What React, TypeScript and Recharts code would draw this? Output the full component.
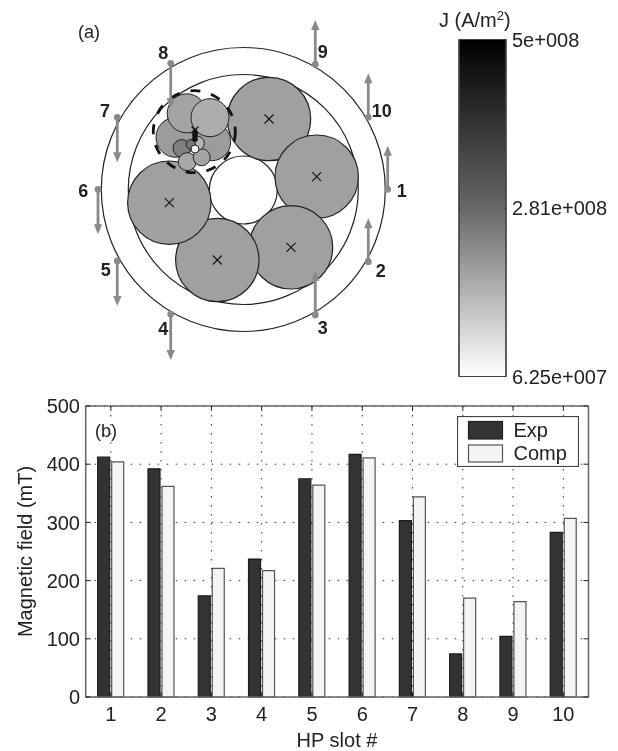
import React from 'react';
import {
  Bar, ComposedChart, Line, ScatterChart, Scatter, XAxis, YAxis, CartesianGrid, Legend,
} from 'recharts';

const FONT = '"Liberation Sans", Arial, sans-serif';

// Panel (b)
const slots = ['1', '2', '3', '4', '5', '6', '7', '8', '9', '10'];
const expValues = [412, 392, 174, 237, 375, 417, 303, 74, 104, 283];
const compValues = [404, 362, 221, 217, 364, 411, 344, 170, 164, 307];
const fieldTicks = [0, 100, 200, 300, 400, 500];
const barRows = slots.map((slot, i) => ({ slot, Exp: expValues[i], Comp: compValues[i] }));

// Panel (a): ring, bundles
const ringX = [243.3, 243.3, 243.3];
const ringY = [189.5, 189.5, 190];
const ringR = [142, 115, 34];
const ringFill = ['#ffffff', '#ffffff', '#ffffff'];

const bundleX = [269, 316.7, 291, 217.3, 169.3];
const bundleY = [119, 176.7, 247.3, 260, 202.7];
const bundleR = [41.7, 41.7, 41.7, 41.7, 41.7];

const subX = [176, 211.7, 186.7, 210, 181.7, 187.3, 201.7, 197.3, 190.7, 195];
const subY = [137.3, 141.7, 113.3, 117.7, 148.3, 161.7, 157.3, 143.3, 144.3, 149];
const subR = [20, 19, 19.5, 19, 8.7, 9, 8.5, 7, 4.7, 4];
const subFill = ['#9c9c9c', '#9c9c9c', '#a4a4a4', '#adadad', '#808080', '#a8a8a8', '#a4a4a4', '#b4b4b4', '#777777', '#ffffff'];

const coreX = [195, 195, 195];
const coreY = [131, 135, 139];
const coreR = [2, 2.6, 2.6];

const crossX = [269, 316.7, 291, 217.3, 169.3, 195];
const crossY = [119, 176.7, 247.3, 260, 202.7, 130];
const crossS = [4.5, 4.5, 4.5, 4.5, 4.5, 3.5];

const dashedX = [194.3];
const dashedY = [131.7];
const dashedR = [41];

// Panel (a): hall-probe slots and arrows
const arrowX = [387.7, 368.3, 315.3, 170.7, 117.3, 98, 117.3, 170.7, 315.3, 368.3];
const arrowBase = [189.3, 261.7, 315, 314.3, 261, 189.3, 117.3, 63.3, 64.3, 117.3];
const arrowTip = [145.7, 218.3, 270.7, 360, 306, 234.3, 162.3, 108.3, 20, 73.3];

const labelText = ['1', '2', '3', '4', '5', '6', '7', '8', '9', '10'];
const labelX = [401.7, 380.7, 322.7, 163.3, 105.7, 83.3, 105, 163.3, 322.7, 381.7];
const labelY = [190.7, 270.7, 328, 329.3, 270, 190.7, 110.7, 52.7, 52.3, 111];

// Colour bar
const jMin = 6.25e7;
const jMax = 5e8;
const jTicks = [6.25e7, 2.81e8, 5e8];
const jTickText: Record<number, string> = { 62500000: '6.25e+007', 281000000: '2.81e+008', 500000000: '5e+008' };
const jRows = [{ name: 'J', value: jMax }];

const zip = (xs: number[], ys: number[], extra: (i: number) => object) =>
  xs.map((x, i) => ({ x, y: ys[i], ...extra(i) }));

const circleRows = (xs: number[], ys: number[], rs: number[], fills?: string[]) =>
  zip(xs, ys, (i) => ({ r: rs[i], fill: fills ? fills[i] : '#a0a0a0' }));

const CircleShape = (stroke: string, width: number, dash?: string, noFill?: boolean) => (p: any) => (
  <circle
    cx={p.cx}
    cy={p.cy}
    r={p.payload.r}
    fill={noFill ? 'none' : p.payload.fill}
    stroke={stroke}
    strokeWidth={width}
    strokeDasharray={dash}
  />
);

const CrossShape = (p: any) => {
  const s = p.payload.s;
  return (
    <path
      d={`M${p.cx - s} ${p.cy - s}L${p.cx + s} ${p.cy + s}M${p.cx - s} ${p.cy + s}L${p.cx + s} ${p.cy - s}`}
      stroke="#111"
      strokeWidth={1.1}
      fill="none"
    />
  );
};

const ArrowShape = (p: any) => {
  const len = p.payload.tip - p.payload.y;
  const dir = len > 0 ? 1 : -1;
  const tipY = p.cy + len;
  return (
    <g>
      <circle cx={p.cx} cy={p.cy} r={3.4} fill="#8a8a8a" />
      <line x1={p.cx} x2={p.cx} y1={p.cy} y2={tipY - dir * 7} stroke="#8a8a8a" strokeWidth={2.8} />
      <path d={`M${p.cx} ${tipY}L${p.cx - 4.2} ${tipY - dir * 10}L${p.cx + 4.2} ${tipY - dir * 10}Z`} fill="#8a8a8a" />
    </g>
  );
};

const LabelShape = (p: any) => (
  <text
    x={p.cx}
    y={p.cy}
    textAnchor="middle"
    dominantBaseline="central"
    fontFamily={FONT}
    fontWeight="bold"
    fontSize={18}
    fill="#222"
  >
    {p.payload.text}
  </text>
);

const LegendBox = () => (
  <svg width={122} height={51} style={{ display: 'block' }}>
    <rect x={0.5} y={0.5} width={121} height={50} fill="#fff" stroke="#444" strokeWidth={1.2} />
    <rect x={11.5} y={5.5} width={34} height={17.5} fill="#333" stroke="#222" strokeWidth={1.2} />
    <rect x={11.5} y={29} width={34} height={17} fill="#f4f4f4" stroke="#555" strokeWidth={1.2} />
    <text x={56.5} y={21} fontFamily={FONT} fontSize={20} fill="#222">Exp</text>
    <text x={56.5} y={44} fontFamily={FONT} fontSize={20} fill="#222">Comp</text>
  </svg>
);

const AXIS = '#666';
const TICK = { fontFamily: FONT, fontSize: 20, fill: '#222' };
const NoText = () => <g />;

export default function App() {
  return (
    <div style={{ position: 'absolute', left: 0, top: 0, width: 618, height: 751, background: '#fff', overflow: 'hidden', filter: 'blur(0.4px)' }}>
      {/* Panel (a) */}
      <div style={{ position: 'absolute', left: 0, top: 0 }}>
        <ScatterChart width={440} height={390} margin={{ top: 0, right: 0, bottom: 0, left: 0 }}>
          <XAxis type="number" dataKey="x" domain={[0, 440]} hide />
          <YAxis type="number" dataKey="y" domain={[0, 390]} reversed hide />
          <Scatter data={circleRows(ringX, ringY, ringR, ringFill)} shape={CircleShape('#222', 1.2)} isAnimationActive={false} />
          <Scatter data={circleRows(bundleX, bundleY, bundleR)} shape={CircleShape('#222', 1.2)} isAnimationActive={false} />
          <Scatter data={circleRows(subX, subY, subR, subFill)} shape={CircleShape('#222', 1)} isAnimationActive={false} />
          <Scatter data={circleRows(coreX, coreY, coreR, ['#111', '#111', '#111'])} shape={CircleShape('#111', 0.6)} isAnimationActive={false} />
          <Scatter data={zip(crossX, crossY, (i) => ({ s: crossS[i] }))} shape={CrossShape} isAnimationActive={false} />
          <Scatter data={circleRows(dashedX, dashedY, dashedR)} shape={CircleShape('#111', 2.8, '10 11', true)} isAnimationActive={false} />
          <Scatter data={zip(arrowX, arrowBase, (i) => ({ tip: arrowTip[i] }))} shape={ArrowShape} isAnimationActive={false} />
          <Scatter data={zip(labelX, labelY, (i) => ({ text: labelText[i] }))} shape={LabelShape} isAnimationActive={false} />
          <text x={78} y={38} fontFamily={FONT} fontSize={18} fill="#222">(a)</text>
        </ScatterChart>
      </div>

      {/* Colour bar */}
      <div style={{ position: 'absolute', left: 438, top: 0 }}>
        <ComposedChart
          width={180}
          height={390}
          data={jRows}
          barCategoryGap={0}
          margin={{ top: 39.5, right: 0, bottom: 13.5, left: 20 }}
        >
          <defs>
            <linearGradient id="jGrad" x1="0" y1="0" x2="0" y2="1">
              <stop offset="0" stopColor="#000" />
              <stop offset="0.5" stopColor="#676767" />
              <stop offset="1" stopColor="#fff" />
            </linearGradient>
          </defs>
          <XAxis dataKey="name" hide />
          <YAxis
            width={1}
            domain={[jMin, jMax]}
            ticks={[jTicks[1]]}
            tick={NoText}
            tickSize={-2}
            axisLine={{ stroke: '#444', strokeWidth: 1.2 }}
            tickLine={{ stroke: '#333' }}
          />
          <YAxis
            yAxisId="r"
            orientation="right"
            width={112}
            domain={[jMin, jMax]}
            ticks={jTicks}
            interval={0}
            tick={TICK}
            tickFormatter={(v: number) => jTickText[v]}
            tickSize={-2}
            tickMargin={8}
            axisLine={{ stroke: '#444', strokeWidth: 1.2 }}
            tickLine={{ stroke: '#333' }}
          />
          <Bar dataKey="value" fill="url(#jGrad)" stroke="#444" strokeWidth={1.2} isAnimationActive={false} />
          <Line yAxisId="r" dataKey="value" stroke="none" fill="none" dot={false} activeDot={false} legendType="none" isAnimationActive={false} />
          <text x={1} y={27} fontFamily={FONT} fontSize={20} fill="#222">
            J (A/m<tspan dy={-7} fontSize={13}>2</tspan><tspan dy={7}>)</tspan>
          </text>
        </ComposedChart>
      </div>

      {/* Panel (b) */}
      <div style={{ position: 'absolute', left: 0, top: 390 }}>
        <ComposedChart
          width={618}
          height={361}
          data={barRows}
          barSize={12}
          barGap={2}
          margin={{ top: 15, right: 28.5, bottom: 0, left: 0 }}
        >
          <CartesianGrid stroke="#333" strokeWidth={1} strokeDasharray="1.5 7.5" />
          <XAxis
            dataKey="slot"
            height={54}
            interval={0}
            tick={TICK}
            tickSize={-5}
            tickMargin={15}
            axisLine={{ stroke: AXIS, strokeWidth: 1.5 }}
            tickLine={{ stroke: '#222' }}
          />
          <XAxis
            xAxisId="top"
            dataKey="slot"
            orientation="top"
            height={1}
            interval={0}
            tick={NoText}
            tickSize={-5}
            axisLine={{ stroke: AXIS, strokeWidth: 1.5 }}
            tickLine={{ stroke: '#222' }}
          />
          <YAxis
            width={85.7}
            domain={[0, 500]}
            ticks={fieldTicks}
            interval={0}
            tick={TICK}
            tickSize={-5}
            tickMargin={10.7}
            axisLine={{ stroke: AXIS, strokeWidth: 1.5 }}
            tickLine={{ stroke: '#222' }}
            label={{ value: 'Magnetic field (mT)', angle: -90, position: 'insideLeft', dx: 20, dy: 0, style: { ...TICK, textAnchor: 'middle' } }}
          />
          <YAxis
            yAxisId="right"
            orientation="right"
            width={1}
            domain={[0, 500]}
            ticks={fieldTicks}
            interval={0}
            tick={NoText}
            tickSize={-5}
            axisLine={{ stroke: AXIS, strokeWidth: 1.5 }}
            tickLine={{ stroke: '#222' }}
          />
          <Bar dataKey="Exp" fill="#333" stroke="#1c1c1c" strokeWidth={1.2} isAnimationActive={false} />
          <Bar dataKey="Comp" fill="#f4f4f4" stroke="#555" strokeWidth={1.2} isAnimationActive={false} />
          <Line xAxisId="top" yAxisId="right" dataKey="Exp" stroke="none" dot={false} activeDot={false} legendType="none" isAnimationActive={false} />
          <Legend
            layout="vertical"
            align="center"
            verticalAlign="middle"
            content={() => <LegendBox />}
            wrapperStyle={{ left: 456.5, top: 26, width: 122, height: 51, right: 'auto', bottom: 'auto' }}
          />
          <text x={95} y={47} fontFamily={FONT} fontSize={18} fill="#222">(b)</text>
          <text x={337} y={357} textAnchor="middle" fontFamily={FONT} fontSize={20} fill="#222">HP slot #</text>
        </ComposedChart>
      </div>
    </div>
  );
}
